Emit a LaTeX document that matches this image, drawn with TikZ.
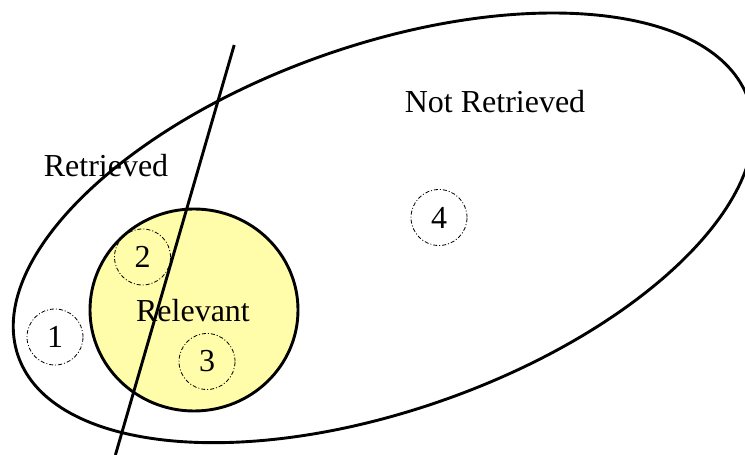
\documentclass[tikz,border=0pt]{standalone}
\usepackage{fontspec}
\setmainfont{Liberation Serif}
\usetikzlibrary{shapes.geometric}
\definecolor{relyellow}{RGB}{255,252,170}
\tikzset{
  bigline/.style={line width=2.9pt},
  dd/.style={circle, draw, line width=0.8pt, dash pattern=on 4pt off 2pt on 1pt off 2pt, minimum size=56pt, inner sep=0pt, font=\fontsize{32}{38}\selectfont},
  lbl/.style={anchor=base, inner sep=0pt, font=\fontsize{32}{38}\selectfont}
}
\begin{document}
\begin{tikzpicture}[x=1pt,y=1pt]
\useasboundingbox (0,0) rectangle (745,455);
\draw[bigline] (383.3,227.15) ellipse [x radius=387, y radius=182.5, rotate=19.4];
\draw[bigline, fill=relyellow] (194,145) ellipse [x radius=104, y radius=101];
\node[dd] (c1) at (55,118) {1};
\node[dd] (c2) at (142.5,198) {2};
\node[dd] (c3) at (207,93.5) {3};
\node[dd] (c4) at (439,237.5) {4};
\coordinate (ltop) at (234.2,410);
\coordinate (lbot) at (115.4,0);
\draw[bigline] (ltop) -- (lbot);
\node[lbl] (ret) at (106,278) {Retrieved};
\node[lbl] (nret) at (495,342) {Not Retrieved};
\node[lbl] (rel) at (193,133) {Relevant};
\end{tikzpicture}
\end{document}
